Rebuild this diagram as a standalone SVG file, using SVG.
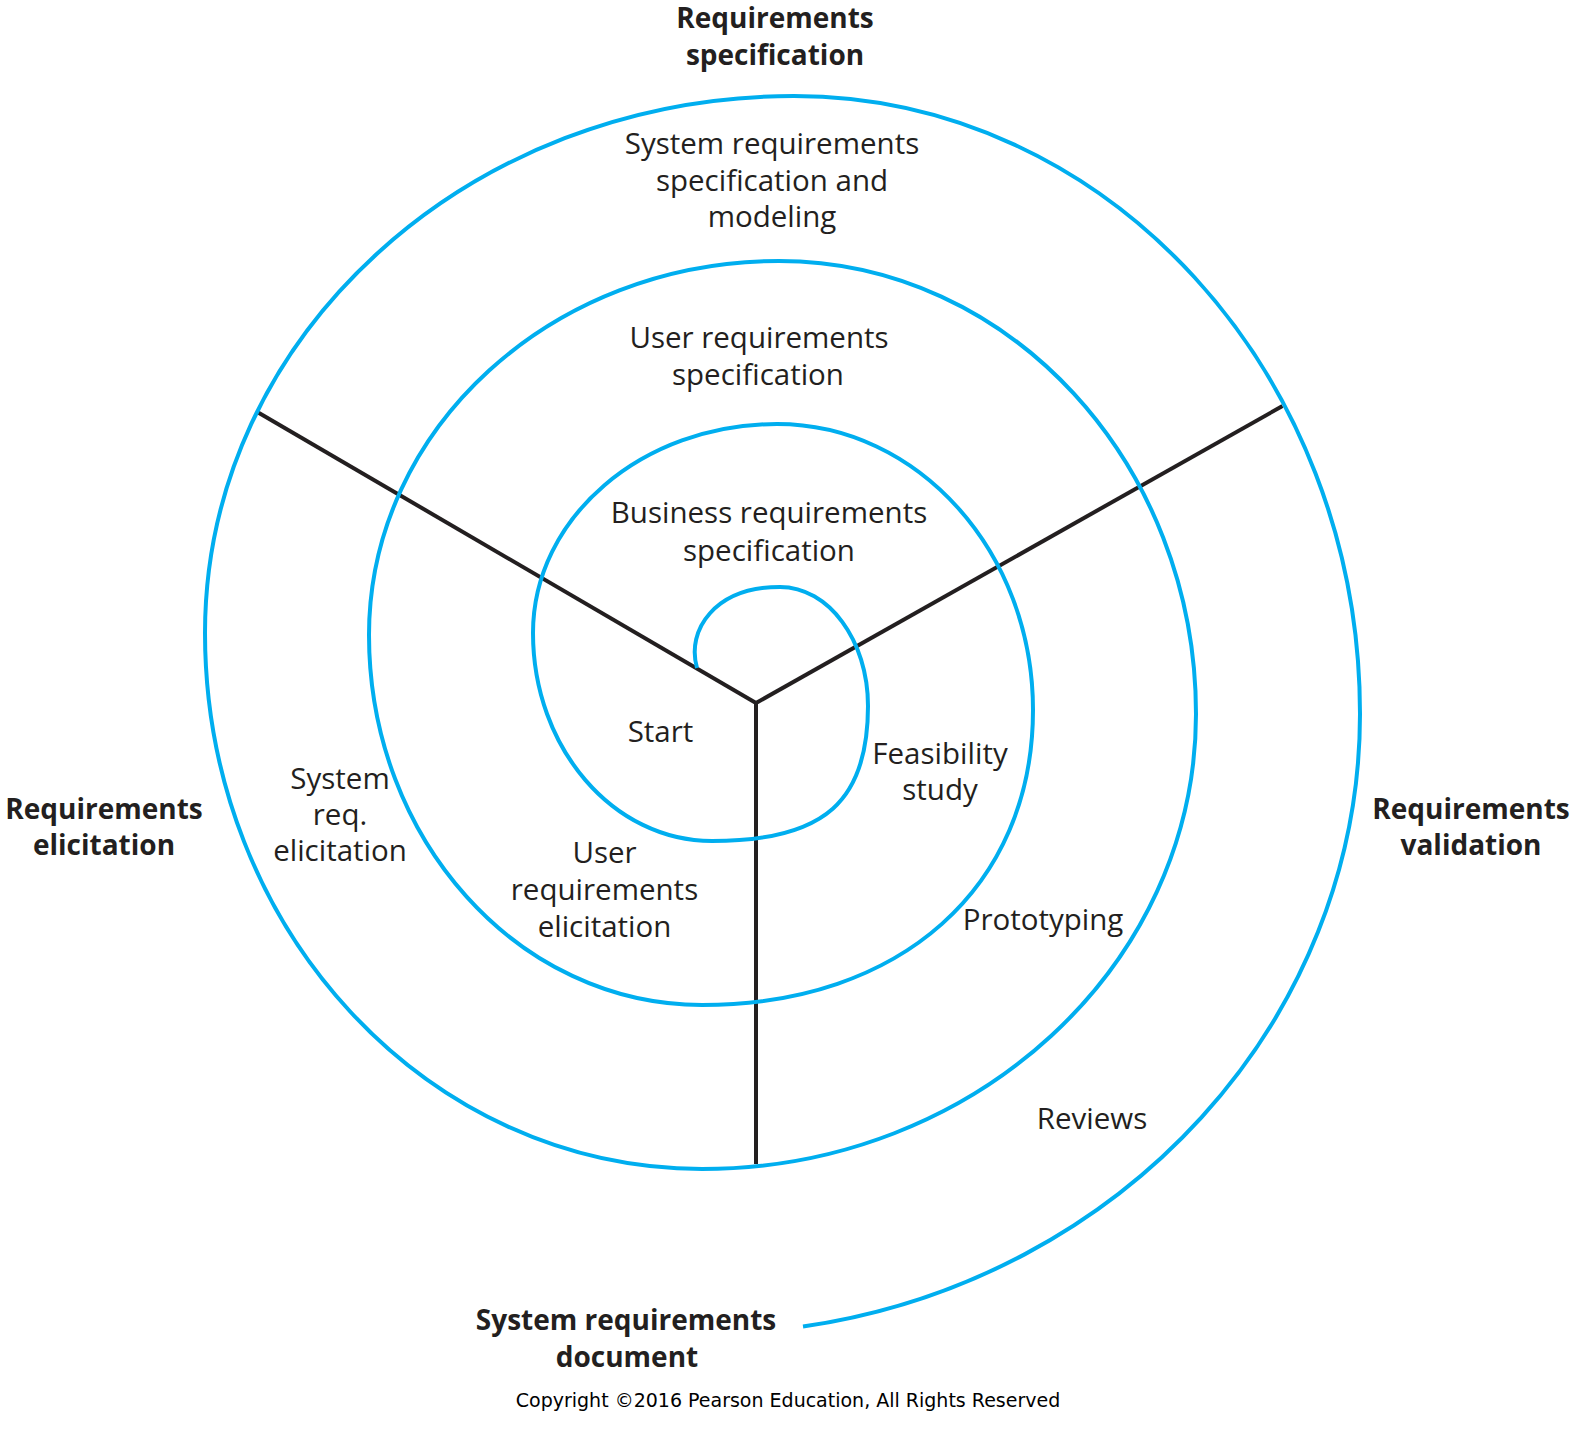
<svg xmlns="http://www.w3.org/2000/svg" width="1576" height="1430" viewBox="0 0 1576 1430">
  <style>
    .spiral { fill: none; stroke: #00AEEF; stroke-width: 4; stroke-linecap: butt; }
    .axis { fill: none; stroke: #231F20; stroke-width: 4; stroke-linecap: butt; }
    .lbl { font-family: "Open Sans", "Noto Sans", sans-serif; font-size: 29.5px; fill: #231F20; text-anchor: middle; }
    .hdr { font-family: "Open Sans", "Noto Sans", sans-serif; font-size: 28px; font-weight: bold; fill: #231F20; text-anchor: middle; }
    .copy { font-family: "DejaVu Sans", "Liberation Sans", sans-serif; font-size: 19px; fill: #000000; text-anchor: middle; }
  </style>
  <rect width="1576" height="1430" fill="#FFFFFF"/>

  <g id="connectors">
    <line class="axis" x1="756" y1="703" x2="257.3" y2="412"/>
    <line class="axis" x1="756" y1="703" x2="1282.5" y2="406"/>
    <line class="axis" x1="756" y1="701" x2="756" y2="1164"/>
    <path id="spiral" class="spiral" d="M 697 668
      C 686 630, 715 587, 780 587
      C 828.6 587, 868 640.3, 868 706
      C 868 799.8, 826.1 841, 712 841
      C 613.1 841, 533 747.9, 533 633
      C 533 517.6, 642.2 424, 777 424
      C 918 424, 1033 552, 1033 710
      C 1033 887, 900.6 1005, 702 1005
      C 518.1 1005, 369 839.4, 369 635
      C 369 428.4, 552.6 261, 779 261
      C 1009.3 261, 1196 463.8, 1196 714
      C 1196 965.3, 974.8 1169, 702 1169
      C 427.5 1169, 205 929, 205 633
      C 205 336.4, 468.7 96, 794 96
      C 1106.6 96, 1360 372.7, 1360 714
      C 1360 1019.7, 1123 1279.8, 803 1326.6"/>
  </g>

  <g id="requirements-specification">
    <text class="hdr" x="775" y="28">Requirements</text>
    <text class="hdr" x="775" y="65">specification</text>
  </g>
  <g id="requirements-elicitation">
    <text class="hdr" x="104" y="819">Requirements</text>
    <text class="hdr" x="104" y="855">elicitation</text>
  </g>
  <g id="requirements-validation">
    <text class="hdr" x="1471" y="819">Requirements</text>
    <text class="hdr" x="1471" y="855">validation</text>
  </g>
  <g id="system-requirements-document">
    <text class="hdr" x="626" y="1330">System requirements</text>
    <text class="hdr" x="627" y="1367">document</text>
  </g>

  <g id="system-requirements-specification">
    <text class="lbl" x="772" y="154">System requirements</text>
    <text class="lbl" x="772" y="190.5">specification and</text>
    <text class="lbl" x="772" y="227">modeling</text>
  </g>
  <g id="user-requirements-specification">
    <text class="lbl" x="759" y="348">User requirements</text>
    <text class="lbl" x="758" y="384.5">specification</text>
  </g>
  <g id="business-requirements-specification">
    <text class="lbl" x="769" y="523">Business requirements</text>
    <text class="lbl" x="769" y="560.5">specification</text>
  </g>
  <g id="start">
    <text class="lbl" x="660.5" y="741.5">Start</text>
  </g>
  <g id="feasibility-study">
    <text class="lbl" x="940" y="764">Feasibility</text>
    <text class="lbl" x="940" y="800">study</text>
  </g>
  <g id="user-requirements-elicitation">
    <text class="lbl" x="604.5" y="863">User</text>
    <text class="lbl" x="604.5" y="900">requirements</text>
    <text class="lbl" x="604.5" y="936.5">elicitation</text>
  </g>
  <g id="system-req-elicitation">
    <text class="lbl" x="340" y="789">System</text>
    <text class="lbl" x="340" y="825">req.</text>
    <text class="lbl" x="340" y="860.5">elicitation</text>
  </g>
  <g id="prototyping">
    <text class="lbl" x="1043" y="930">Prototyping</text>
  </g>
  <g id="reviews">
    <text class="lbl" x="1092" y="1129">Reviews</text>
  </g>
  <g id="copyright">
    <text class="copy" x="788" y="1407">Copyright ©2016 Pearson Education, All Rights Reserved</text>
  </g>
</svg>
